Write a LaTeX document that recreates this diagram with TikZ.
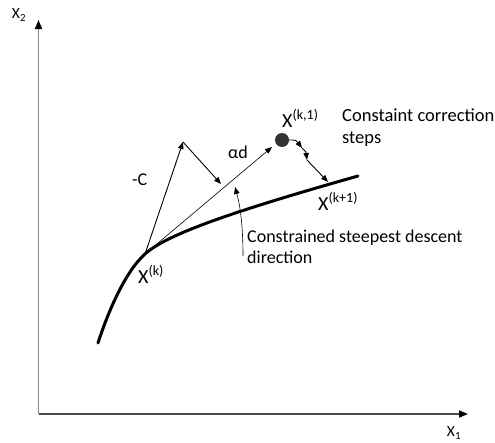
\documentclass[tikz,border=0pt]{standalone}
\usepackage{fontspec}
\setmainfont{Carlito}
\usetikzlibrary{arrows.meta}
\begin{document}
\begin{tikzpicture}[x=1pt,y=-1pt,
  lbl/.style={text=black, inner sep=0pt},
  axis/.style={line width=1.6pt, -{Triangle[length=9pt,width=7pt,color=black]}},
  arr/.style={line width=0.9pt, -{Triangle[length=7pt,width=5.5pt]}},
  thin arr/.style={line width=0.6pt, -{Triangle[length=7pt,width=5.5pt]}}]
\useasboundingbox (0,0) rectangle (495,442);
% axes
\coordinate (O) at (38.5,414);
\coordinate (ytip) at (38.5,20);
\coordinate (xtip) at (468,414);
\draw[axis, draw=black!45] (O) -- (ytip);
\draw[axis, draw=black!70] (O) -- (xtip);
\node[lbl, font=\fontsize{15.5}{18}\selectfont] (x2) at (19,15) {X\textsubscript{2}};
\node[lbl, font=\fontsize{15.5}{18}\selectfont] (x1) at (454,433) {X\textsubscript{1}};
% constraint curve
\draw[line width=3pt, line cap=round] (98,343) .. controls (108,312) and (125,272) .. (145,254)
  .. controls (165,236) and (220,215) .. (358,176);
\coordinate (xk) at (145,254);
\coordinate (ctip) at (183,142);
\coordinate (proj) at (221,184);
\coordinate (dtip) at (272,147);
\coordinate (s1) at (302,148);
\coordinate (s2) at (307,160);
\coordinate (xk1) at (328,182);
\node[circle, fill=black!80, minimum size=14pt, inner sep=0pt] (dot) at (282,140) {};
% arrows
\draw[arr] (xk) -- (ctip);
\draw[arr] (ctip) -- (proj);
\draw[thin arr] (xk) -- (dtip);
\draw[arr] (dot.east) .. controls (296,140) .. (s1);
\draw[arr] (s1) .. controls (306,152) .. (s2);
\draw[arr] (s2) -- (xk1);
% labels
\node[lbl, anchor=base west, font=\fontsize{18}{21}\selectfont] (mc) at (132,185) {-C};
\node[lbl, anchor=base west, font=\fontsize{18}{21}\selectfont] (ad) at (228,158) {αd};
\node[lbl, anchor=base west, font=\fontsize{20}{24}\selectfont] (xkone) at (282,127) {X\textsuperscript{(k,1)}};
\node[lbl, anchor=base west, align=left, font=\fontsize{18.5}{22}\selectfont] (cc) at (342,143) {Constaint correction\\steps};
\node[lbl, anchor=base west, font=\fontsize{20}{24}\selectfont] (xkp) at (318,210) {X\textsuperscript{(k+1)}};
\node[lbl, anchor=base west, font=\fontsize{20}{24}\selectfont] (xklab) at (138,283) {X\textsuperscript{(k)}};
\node[lbl, anchor=base west, align=left, font=\fontsize{18}{20.5}\selectfont] (csd) at (247,263) {Constrained steepest descent\\direction};
\coordinate (cstart) at (243,256);
\draw[thin arr] (cstart) .. controls (243,225) and (240,205) .. (235,187);
\end{tikzpicture}
\end{document}
